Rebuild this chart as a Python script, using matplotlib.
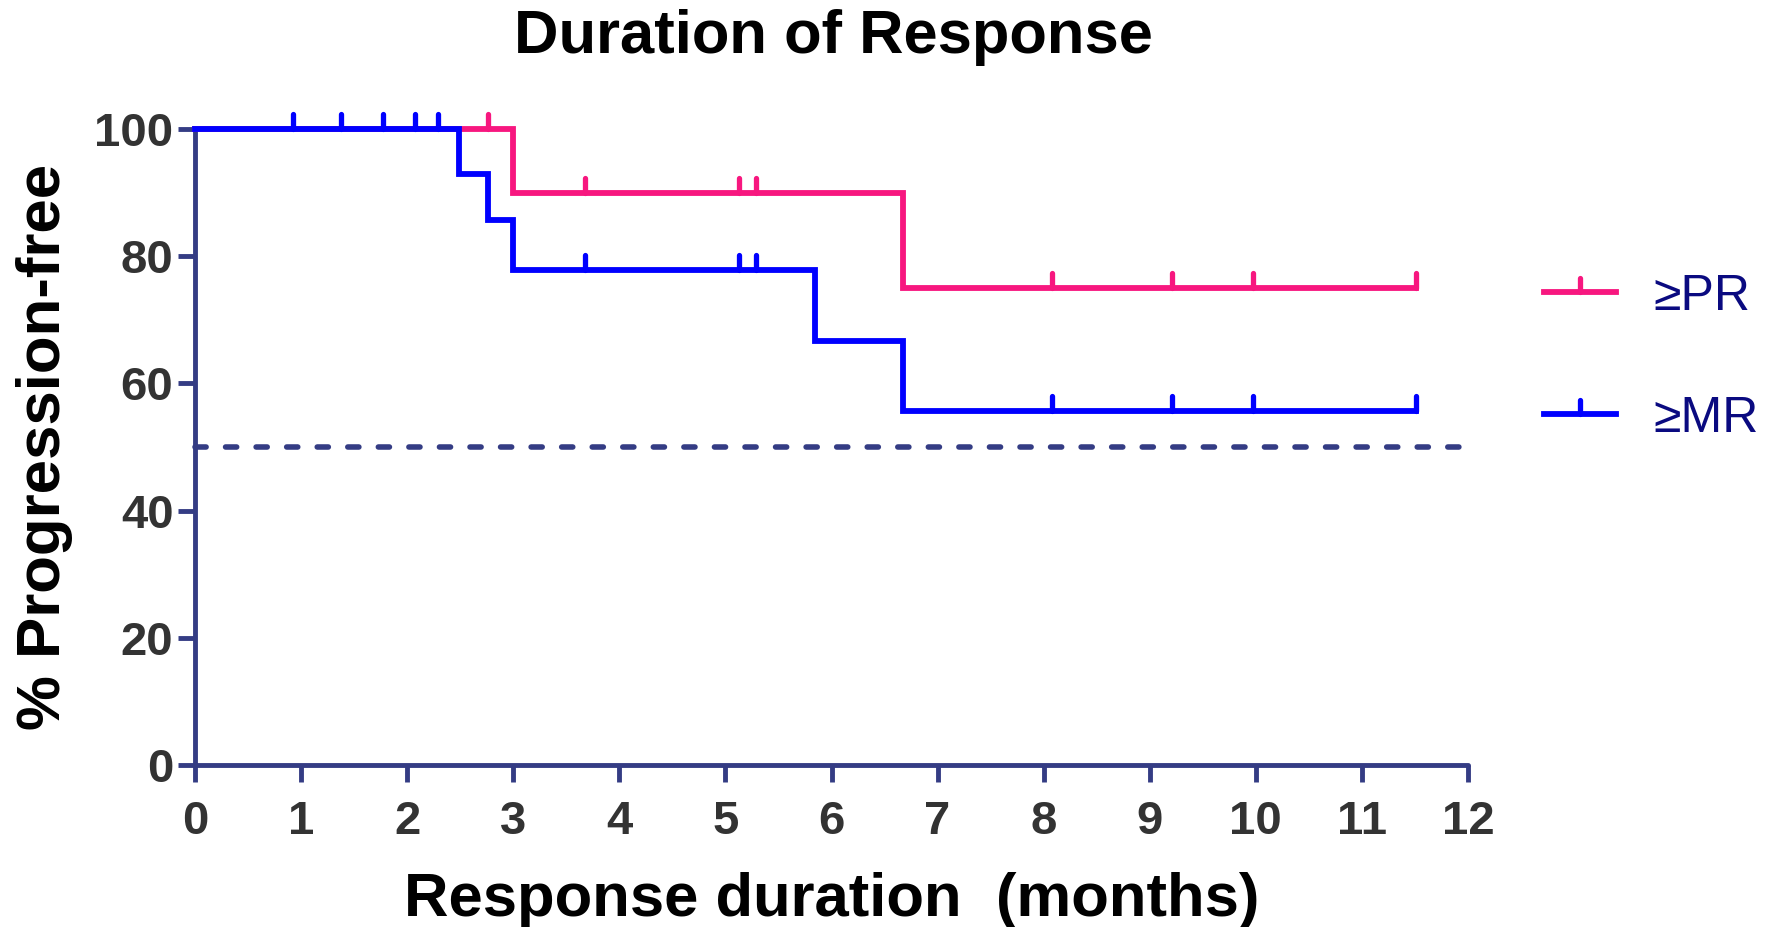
import matplotlib
matplotlib.use("Agg")
import matplotlib.pyplot as plt
from matplotlib.path import Path
from matplotlib.markers import MarkerStyle
from matplotlib.lines import Line2D

# ---- data ----
pr_times = [0, 3.0, 6.67, 11.51]
pr_surv = [100, 90.0, 75.0, 75.0]
pr_cens_t = [2.76, 3.68, 5.13, 5.29, 8.08, 9.21, 9.97, 11.51]
pr_cens_y = [100, 90, 90, 90, 75, 75, 75, 75]

mr_times = [0, 2.49, 2.76, 3.0, 5.84, 6.67, 11.51]
mr_surv = [100, 92.9, 85.7, 77.9, 66.7, 55.6, 55.6]
mr_cens_t = [0.92, 1.38, 1.77, 2.07, 2.29, 3.68, 5.13, 5.29, 8.08, 9.21, 9.97, 11.51]
mr_cens_y = [100, 100, 100, 100, 100, 77.9, 77.9, 77.9, 55.6, 55.6, 55.6, 55.6]

median_line_x = [0, 12]
median_line_y = [50, 50]

x_ticks = list(range(0, 13))
y_ticks = [0, 20, 40, 60, 80, 100]
labels = ["\u2265PR", "\u2265MR"]

PINK = "#F7177F"
BLUE = "#0000FF"
NAVY = "#343C84"
LEG_TXT = "#0A0A80"
TICK_TXT = "#333333"

plt.rcParams['font.family'] = ['Liberation Sans', 'DejaVu Sans']

fig = plt.figure(figsize=(17.69, 9.27), dpi=100)
ax = fig.add_axes([195/1769, 1-765/927, (1468-195)/1769, (765-129)/927])

cens_marker = MarkerStyle(Path([(0, 0), (0, 1)]), capstyle='round')
LW = 4.2

ax.step(pr_times, pr_surv, where='post', color=PINK, lw=LW, clip_on=False,
        solid_joinstyle='miter', zorder=3)
ax.plot(pr_cens_t, pr_cens_y, ls='none', marker=cens_marker, ms=22, mew=3.8,
        mec=PINK, mfc='none', clip_on=False, zorder=3)
ax.step(mr_times, mr_surv, where='post', color=BLUE, lw=LW, clip_on=False,
        solid_joinstyle='miter', zorder=4)
ax.plot(mr_cens_t, mr_cens_y, ls='none', marker=cens_marker, ms=22, mew=3.8,
        mec=BLUE, mfc='none', clip_on=False, zorder=4)

ax.plot(median_line_x, median_line_y, color=NAVY, lw=4, ls=(0, (2.0, 3.5)),
        dash_capstyle='round', clip_on=False, zorder=2)

ax.set_xlim(0, 12)
ax.set_ylim(0, 100)
for s in ['top', 'right']:
    ax.spines[s].set_visible(False)
for s in ['left', 'bottom']:
    ax.spines[s].set_color(NAVY)
    ax.spines[s].set_linewidth(3.5)
    ax.spines[s].set_capstyle('round')
ax.set_xticks(x_ticks)
ax.set_yticks(y_ticks)
ax.tick_params(axis='both', length=12, width=3.5, color=NAVY, direction='out',
               labelsize=34, labelcolor=TICK_TXT)
ax.tick_params(axis='x', pad=13.5)
ax.tick_params(axis='y', pad=3.5)
for t in ax.get_xticklabels() + ax.get_yticklabels():
    t.set_fontweight('bold')

fig.text(833/1769, 1-53/927, "Duration of Response", ha='center', va='baseline',
         fontsize=44.3, fontweight='bold', color='black')
fig.text(832/1769, 1-916/927, "Response duration  (months)", ha='center', va='baseline',
         fontsize=44.4, fontweight='bold', color='black')
fig.text(45/1769, 1-447/927, "% Progression-free", ha='center', va='center',
         rotation=90, fontsize=44.5, fontweight='bold', color='black')

handles = [
    Line2D([], [], color=PINK, lw=LW, marker=cens_marker, ms=20, mew=3.8, mec=PINK, mfc='none'),
    Line2D([], [], color=BLUE, lw=LW, marker=cens_marker, ms=20, mew=3.8, mec=BLUE, mfc='none'),
]
leg = fig.legend(handles, labels, loc='upper left', bbox_to_anchor=(1544/1769, 1-273.5/927),
                 frameon=False, fontsize=36, handlelength=1.44, handletextpad=0.74,
                 labelspacing=1.52, labelcolor=LEG_TXT, numpoints=1,
                 borderpad=0, borderaxespad=0)

fig.savefig("out.png", dpi=100)
